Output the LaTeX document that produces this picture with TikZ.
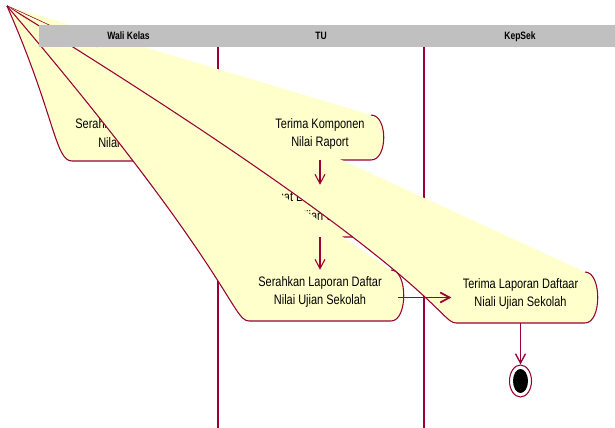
\documentclass[tikz,border=0pt]{standalone}
\usepackage{fontspec}
\setmainfont{Liberation Sans}[FakeStretch=0.8]
\usetikzlibrary{arrows.meta,shapes.geometric}

\definecolor{roseline}{RGB}{153,0,51}
\definecolor{rosefill}{RGB}{255,255,204}
\definecolor{headgray}{RGB}{192,192,192}

% activity outline whose top-left corner is pulled into the apex
% #1 left, #2 right, #3 top, #4 bottom (pixels)
\newcommand{\actshape}[4]{%
  \filldraw[actbody] (apex) .. controls ({#1-4},#3) and ({#1-4},#4) .. ({#1+13},#4)
    -- ({#2-13},#4) .. controls ({#2+4},#4) and ({#2+4},#3) .. ({#2-13},#3);
}
\newcommand{\twoline}[2]{\rule{0pt}{8pt}#1\\#2\rule[-8pt]{0pt}{8pt}}

\begin{document}
\begin{tikzpicture}[x=0.75pt,y=-0.75pt,
    actbody/.style={fill=rosefill, draw=roseline, line width=0.8pt},
    acttext/.style={inner sep=0pt, align=center, font=\fontsize{10.3}{14}\selectfont},
    laneline/.style={draw=roseline, line width=1pt},
    lanehead/.style={inner sep=0pt, text height=5.8pt, text depth=0pt,
      font=\bfseries\fontsize{8}{10}\selectfont},
    flow/.style={draw=roseline, line width=0.8pt, -{Straight Barb[length=7pt,width=7.5pt]}}]
  \useasboundingbox (0,0) rectangle (615,428);
  \coordinate (apex) at (7,6);

  % --- lane separators ---
  \foreach \lx in {218,424} {
    \draw[laneline] (\lx,47) -- (\lx,428);
  }

  % --- activities, back to front ---
  \actshape{59}{195}{115}{161}
  \node[acttext, minimum width=102pt, minimum height=34.5pt] (serahKomponen) at (127,138)
    {\twoline{Serahkan Komponen}{Nilai Raport}};
  \actshape{258}{382}{185}{237}
  \node[acttext, minimum width=93pt, minimum height=39pt] (buatLaporan) at (320,211)
    {\twoline{Buat Laporan Daftar}{Nilai Ujian Sekolah}};
  \actshape{256}{384}{115}{160}
  \actshape{443}{598}{272}{323}
  \node[acttext, minimum width=116.25pt, minimum height=38.25pt] (terimaLaporan) at (520.5,297.5)
    {\twoline{Terima Laporan Daftaar}{Niali Ujian Sekolah}};
  \actshape{236}{404}{270}{321}
  \node[acttext, minimum width=126pt, minimum height=38.25pt] (serahLaporan) at (320,295.5)
    {\twoline{Serahkan Laporan Daftar}{Nilai Ujian Sekolah}};
  \node[acttext, minimum width=96pt, minimum height=33.75pt] (terimaKomponen) at (320,137.5)
    {\twoline{Terima Komponen}{Nilai Raport}};

  % --- swimlane header ---
  \fill[headgray] (39,25) rectangle (615,47);
  \foreach \hx/\hid/\htext in {128.5/hdWali/Wali Kelas, 321/hdTU/TU, 520/hdKepSek/KepSek} {
    \node[lanehead] (\hid) at (\hx,36) {\htext};
  }

  % --- final state ---
  \node[ellipse, draw=roseline, fill=white, line width=0.8pt, inner sep=0pt,
    minimum width=16.5pt, minimum height=24pt] (akhir) at (520.5,381) {};
  \node[ellipse, fill=black, inner sep=0pt,
    minimum width=11.25pt, minimum height=18pt] (akhirInti) at (akhir.center) {};

  % --- transitions ---
  \draw[flow] (terimaKomponen.south) -- (buatLaporan.north);
  \draw[flow] (buatLaporan.south) -- (serahLaporan.north);
  \draw[flow, line width=1.3pt, shorten <=-4.5pt, shorten >=-6.5pt]
    (serahLaporan.east |- terimaLaporan.west) -- (terimaLaporan.west);
  \draw[flow, line width=1pt] (terimaLaporan.south) -- (akhir.north);
\end{tikzpicture}
\end{document}
